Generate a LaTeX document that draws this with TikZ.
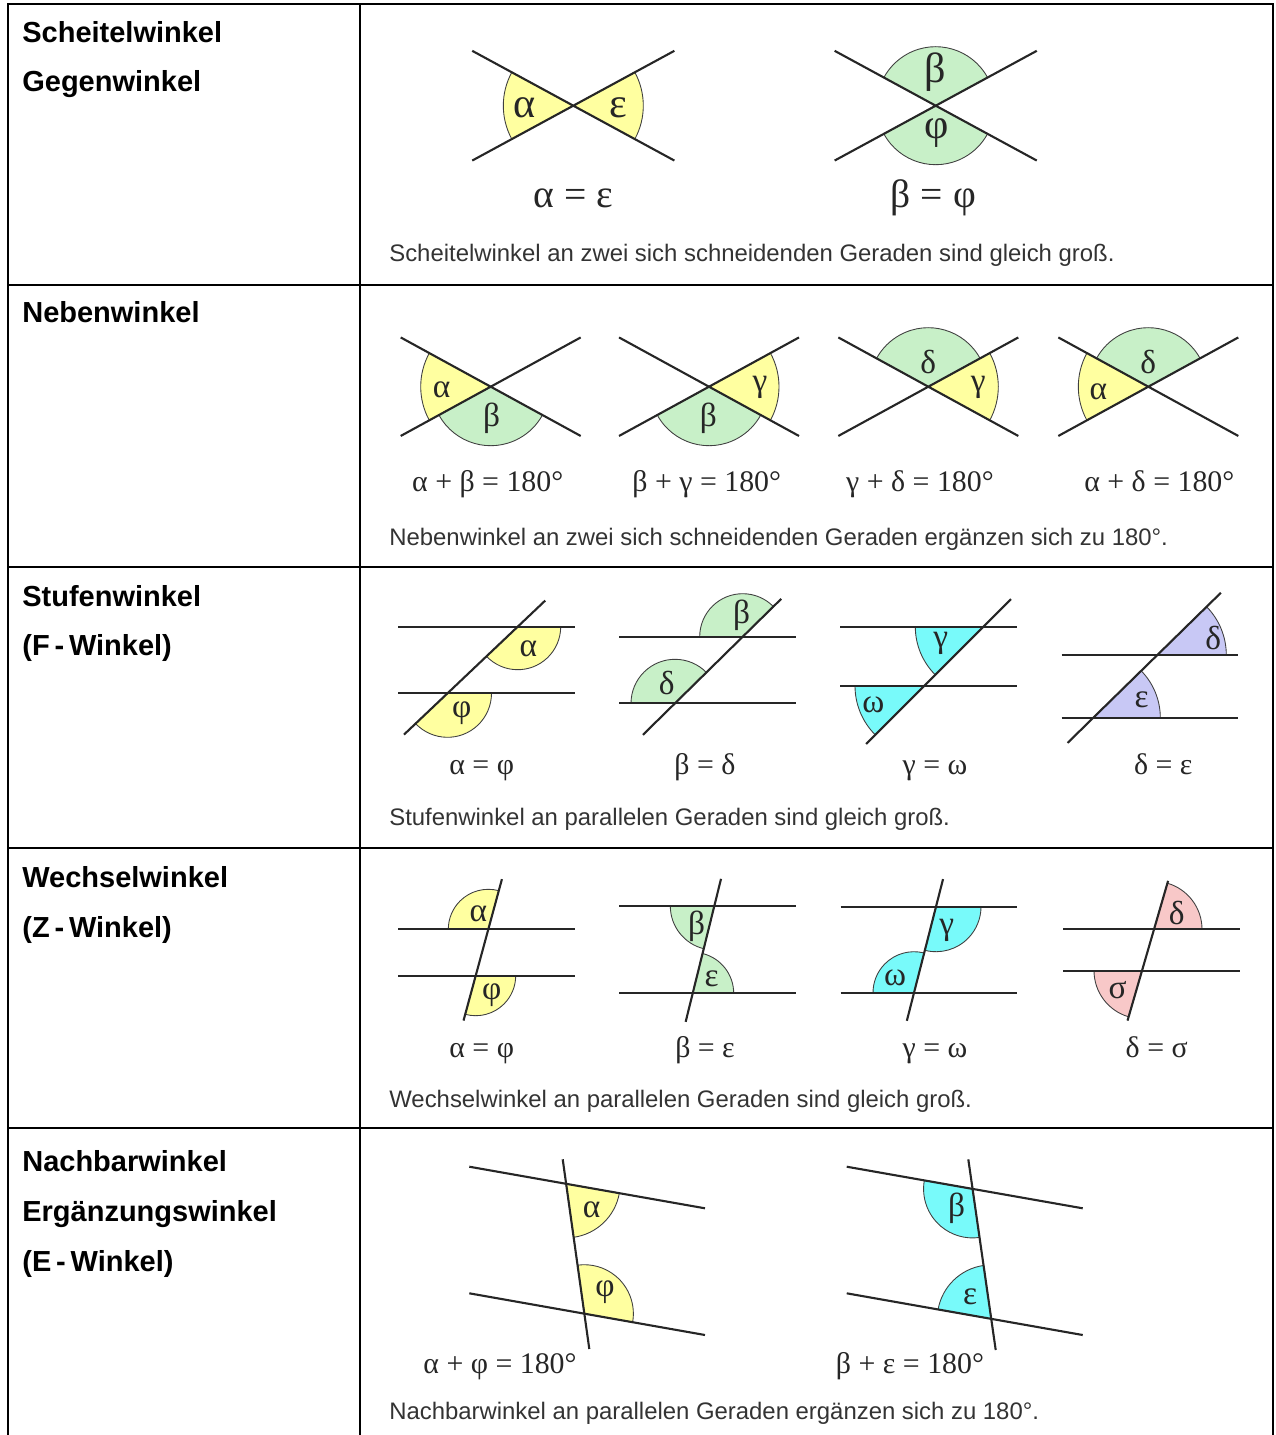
\documentclass[tikz,border=0pt]{standalone}
\usepackage{fontspec}
\setmainfont{Liberation Sans}
\newfontfamily\grk{Liberation Serif}
\usetikzlibrary{calc}

\definecolor{gelb}{RGB}{255,255,160}
\definecolor{gruen}{RGB}{200,240,200}
\definecolor{tuerkis}{RGB}{120,250,250}
\definecolor{lila}{RGB}{200,200,245}
\definecolor{rosa}{RGB}{248,200,200}

% filled angle: colour, vertex, start, end, radius
\newcommand{\winkel}[5]{\filldraw[bogen, fill=#1] (#2) -- ++(#3:#5) arc[start angle=#3, end angle=#4, radius=#5] -- cycle;}
% two crossing lines through a vertex
\newcommand{\kreuz}[3]{\draw[gerade] (#1) ++(180-#2:#3) -- ++(-#2:2*#3) (#1) ++(180+#2:#3) -- ++(#2:2*#3);}

\begin{document}
\begin{tikzpicture}[x=0.02cm, y=0.02cm]
\tikzset{
	rahmen/.style={line width=1.6pt},
	kopf/.style={anchor=base west, inner sep=0pt, font=\bfseries\fontsize{16.5}{18}\selectfont},
	satz/.style={anchor=base west, inner sep=0pt, text=black!80, font=\fontsize{13.6}{15}\selectfont},
	gerade/.style={line width=1.2pt, black!85},
	bogen/.style={draw=black!75, line width=0.5pt},
	gross/.style={inner sep=0pt, text=black!85, font=\grk\fontsize{24}{24}\selectfont},
	klein/.style={inner sep=0pt, text=black!85, font=\grk\fontsize{19}{19}\selectfont},
	gleich/.style={anchor=base, inner sep=0pt, text=black!85, font=\grk\fontsize{17}{17}\selectfont}
}
\useasboundingbox (0,0) rectangle (1275,-1435);

% Table
\draw[rahmen] (8,-1436) -- (8,-4) -- (1273,-4) -- (1273,-1436);
\draw[rahmen] (360,-4) -- (360,-1436);
\foreach \y in {285,567,848,1128} \draw[rahmen] (8,-\y) -- (1273,-\y);

\node[kopf] (k1) at (22,-43) {Scheitelwinkel};
\node[kopf] (k2) at (22,-92) {Gegenwinkel};
\node[kopf] (k3) at (22,-323) {Nebenwinkel};
\node[kopf] (k4) at (22,-606) {Stufenwinkel};
\node[kopf] (k5) at (22,-655) {(F\,-\,Winkel)};
\node[kopf] (k6) at (22,-887) {Wechselwinkel};
\node[kopf] (k7) at (22,-937) {(Z\,-\,Winkel)};
\node[kopf] (k8) at (22,-1171) {Nachbarwinkel};
\node[kopf] (k9) at (22,-1221) {Ergänzungswinkel};
\node[kopf] (k10) at (22,-1271) {(E\,-\,Winkel)};

\node[satz] (z1) at (389,-262) {Scheitelwinkel an zwei sich schneidenden Geraden sind gleich groß.};
\node[satz] (z2) at (389,-545) {Nebenwinkel an zwei sich schneidenden Geraden ergänzen sich zu 180°.};
\node[satz] (z3) at (389,-825) {Stufenwinkel an parallelen Geraden sind gleich groß.};
\node[satz] (z4) at (389,-1107) {Wechselwinkel an parallelen Geraden sind gleich groß.};
\node[satz] (z5) at (389,-1419) {Nachbarwinkel an parallelen Geraden ergänzen sich zu 180°.};

% Scheitelwinkel
\coordinate (s1) at (573.3,-105.7);
\coordinate (s2) at (935.7,-105.7);
\winkel{gelb}{s1}{151.5}{208.5}{70}
\winkel{gelb}{s1}{-28.5}{28.5}{70}
\winkel{gruen}{s2}{28.5}{151.5}{59}
\winkel{gruen}{s2}{208.5}{331.5}{59}
\kreuz{s1}{28.5}{115}
\kreuz{s2}{28.5}{115}
\node[gross] (s1a) at (525,-108) {α};
\node[gross] (s1e) at (618,-108) {ε};
\node[gross] (s2b) at (935,-72) {β};
\node[gross] (s2p) at (936.7,-133) {φ};
\node[gleich, font=\grk\fontsize{22.5}{22.5}\selectfont] (g1) at (573.3,-208) {α = ε};
\node[gleich, font=\grk\fontsize{22.5}{22.5}\selectfont] (g2) at (933.3,-208) {β = φ};

% Nebenwinkel
\coordinate (n1) at (490.7,-386.7);
\coordinate (n2) at (709,-386.7);
\coordinate (n3) at (928.3,-386.7);
\coordinate (n4) at (1148.3,-386.7);
\winkel{gelb}{n1}{151.3}{208.7}{70}
\winkel{gruen}{n1}{208.7}{331.3}{59}
\winkel{gruen}{n2}{208.7}{331.3}{59}
\winkel{gelb}{n2}{-28.7}{28.7}{70}
\winkel{gruen}{n3}{28.7}{151.3}{59}
\winkel{gelb}{n3}{-28.7}{28.7}{70}
\winkel{gruen}{n4}{28.7}{151.3}{59}
\winkel{gelb}{n4}{151.3}{208.7}{70}
\foreach \n in {n1,n2,n3,n4} {\kreuz{\n}{28.7}{102.6}}
\node[klein] (n1a) at (441.7,-390) {α};
\node[klein] (n1b) at (491.7,-418) {β};
\node[klein] (n2b) at (708.3,-418) {β};
\node[klein] (n2c) at (760,-387) {γ};
\node[klein] (n3d) at (928.3,-362) {δ};
\node[klein] (n3c) at (978.3,-387) {γ};
\node[klein] (n4d) at (1148.3,-362) {δ};
\node[klein] (n4a) at (1098.3,-392) {α};
\node[gleich] (g3) at (487.7,-491) {α + β = 180°};
\node[gleich] (g4) at (706.7,-491) {β + γ = 180°};
\node[gleich] (g5) at (920,-491) {γ + δ = 180°};
\node[gleich] (g6) at (1159.3,-491) {α + δ = 180°};

% Stufenwinkel
\coordinate (t1) at (517.7,-626.7);  \coordinate (b1) at (447.5,-693.3);
\coordinate (t2) at (742.7,-636.7);  \coordinate (b2) at (675,-703.3);
\coordinate (t3) at (983.3,-626.7);  \coordinate (b3) at (924,-686);
\coordinate (t4) at (1157.3,-655);   \coordinate (b4) at (1093.3,-717.7);
\winkel{gelb}{t1}{223.5}{360}{43}
\winkel{gelb}{b1}{223.5}{360}{44}
\winkel{gruen}{t2}{44.5}{180}{43}
\winkel{gruen}{b2}{44.5}{180}{44}
\winkel{tuerkis}{t3}{180}{225}{68}
\winkel{tuerkis}{b3}{180}{225}{69}
\winkel{lila}{t4}{0}{44.4}{69}
\winkel{lila}{b4}{0}{44.4}{67}
\draw[gerade] (398.3,-626.7) -- (575,-626.7) (398.3,-693.3) -- (575,-693.3);
\draw[gerade] ($(b1)+(223.5:60)$) -- ($(t1)+(43.5:38)$);
\draw[gerade] (619.3,-636.7) -- (796,-636.7) (619.3,-703.3) -- (796,-703.3);
\draw[gerade] ($(b2)+(224.5:45)$) -- ($(t2)+(44.5:54)$);
\draw[gerade] (840,-626.7) -- (1016.7,-626.7) (840,-686) -- (1016.7,-686);
\draw[gerade] ($(b3)+(225:82)$) -- ($(t3)+(45:39)$);
\draw[gerade] (1061.7,-655) -- (1238.3,-655) (1061.7,-717.7) -- (1238.3,-717.7);
\draw[gerade] ($(b4)+(224.4:36)$) -- ($(t4)+(44.4:89)$);
\node[klein] (t1a) at (528.3,-648.3) {α};
\node[klein] (b1p) at (461.7,-713.3) {φ};
\node[klein] (t2b) at (741.7,-615) {β};
\node[klein] (b2d) at (666.7,-683.3) {δ};
\node[klein] (t3c) at (940.7,-643.3) {γ};
\node[klein] (b3w) at (873.3,-705) {ω};
\node[klein] (t4d) at (1213.3,-638.3) {δ};
\node[klein] (b4e) at (1141.7,-700) {ε};
\node[gleich] (g7) at (481.7,-774) {α = φ};
\node[gleich] (g8) at (705,-774) {β = δ};
\node[gleich] (g9) at (935,-774) {γ = ω};
\node[gleich] (g10) at (1163.3,-774) {δ = ε};

% Wechselwinkel
\coordinate (t5) at (488.3,-929.3);  \coordinate (b5) at (475.7,-975.7);
\coordinate (t6) at (714.3,-906);    \coordinate (b6) at (692.7,-993.3);
\coordinate (t7) at (936,-906.7);    \coordinate (b7) at (914,-992.7);
\coordinate (t8) at (1154,-929.3);   \coordinate (b8) at (1142,-970.7);
\winkel{gelb}{t5}{74.8}{180}{40}
\winkel{gelb}{b5}{254.8}{360}{40}
\winkel{gruen}{t6}{180}{256.1}{44}
\winkel{gruen}{b6}{0}{76.1}{41}
\winkel{tuerkis}{t7}{255.7}{360}{45}
\winkel{tuerkis}{b7}{75.7}{180}{41}
\winkel{rosa}{t8}{0}{73.8}{48}
\winkel{rosa}{b8}{180}{253.8}{48}
\draw[gerade] (398.3,-929.3) -- (575,-929.3) (398.3,-975.7) -- (575,-975.7);
\draw[gerade] ($(b5)+(254.8:46.5)$) -- ($(t5)+(74.8:52)$);
\draw[gerade] (619.3,-906) -- (796,-906) (619.3,-993.3) -- (796,-993.3);
\draw[gerade] ($(b6)+(256.1:29.4)$) -- ($(t6)+(76.1:28)$);
\draw[gerade] (840.7,-906.7) -- (1017.3,-906.7) (840.7,-992.7) -- (1017.3,-992.7);
\draw[gerade] ($(b7)+(255.7:29)$) -- ($(t7)+(75.7:28.5)$);
\draw[gerade] (1063.3,-929.3) -- (1240,-929.3) (1063.3,-970.7) -- (1240,-970.7);
\draw[gerade] ($(b8)+(253.8:52)$) -- ($(t8)+(73.8:50.5)$);
\node[klein] (t5a) at (478.3,-914) {α};
\node[klein] (b5p) at (491.7,-995) {φ};
\node[klein] (t6b) at (696.7,-926) {β};
\node[klein] (b6e) at (711.7,-978.3) {ε};
\node[klein] (t7c) at (946.7,-930) {γ};
\node[klein] (b7w) at (895,-978.3) {ω};
\node[klein] (t8d) at (1176.7,-913.3) {δ};
\node[klein] (b8s) at (1117.7,-990) {σ};
\node[gleich] (g11) at (481.7,-1057) {α = φ};
\node[gleich] (g12) at (705,-1057) {β = ε};
\node[gleich] (g13) at (935,-1057) {γ = ω};
\node[gleich] (g14) at (1156.7,-1057) {δ = σ};

% Nachbarwinkel
\coordinate (t9) at (intersection of 469.3,-1166.7--705,-1208.3 and 562.7,-1159.3--589.3,-1349);
\coordinate (b9) at (intersection of 469.3,-1293.3--705,-1335 and 562.7,-1159.3--589.3,-1349);
\coordinate (t10) at (intersection of 846.7,-1166.7--1082.7,-1208.3 and 968.3,-1159.3--995.7,-1350);
\coordinate (b10) at (intersection of 846.7,-1293.3--1082.7,-1335 and 968.3,-1159.3--995.7,-1350);
\winkel{gelb}{t9}{278}{350}{54}
\winkel{gelb}{b9}{-10}{98}{49}
\winkel{tuerkis}{t10}{170}{278}{49}
\winkel{tuerkis}{b10}{98}{170}{54}
\draw[gerade] (469.3,-1166.7) -- (705,-1208.3) (469.3,-1293.3) -- (705,-1335);
\draw[gerade] (562.7,-1159.3) -- (589.3,-1349);
\draw[gerade] (846.7,-1166.7) -- (1082.7,-1208.3) (846.7,-1293.3) -- (1082.7,-1335);
\draw[gerade] (968.3,-1159.3) -- (995.7,-1350);
\node[klein] (t9a) at (591.7,-1210) {α};
\node[klein] (b9p) at (605,-1291.7) {φ};
\node[klein] (t10b) at (956.7,-1208.3) {β};
\node[klein] (b10e) at (970,-1296.7) {ε};
\node[gleich] (g15) at (500,-1373) {α + φ = 180°};
\node[gleich] (g16) at (910,-1373) {β + ε = 180°};

\end{tikzpicture}
\end{document}
